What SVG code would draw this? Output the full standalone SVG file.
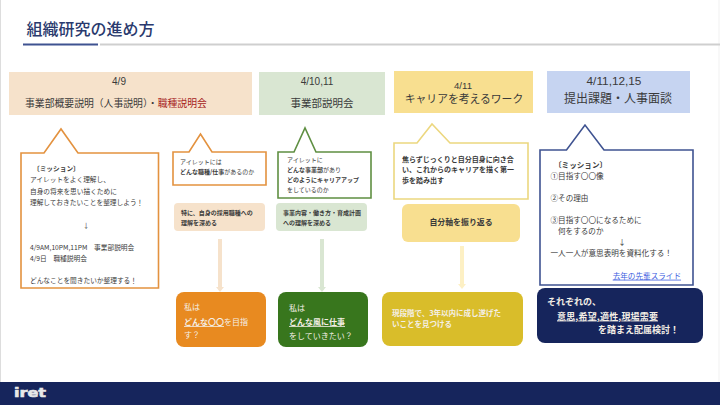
<svg xmlns="http://www.w3.org/2000/svg" width="720" height="405" viewBox="0 0 720 405">
<style>
text{font-family:"Liberation Sans","Noto Sans CJK JP",sans-serif;fill:#3a3a3a}
.j{font-family:"Noto Sans CJK JP",sans-serif}
.m{text-anchor:middle}
.b{font-weight:700}
.s{font-size:6.7px}
.t{font-size:6px}
.n{font-size:7.6px}
.w{fill:#f4efe6}
.c{fill:#fff;stroke-width:1.6;stroke-linejoin:miter}
.u{text-decoration:underline}
.a{fill:none;stroke-width:4}
</style>
<defs>
<marker id="hO" markerUnits="userSpaceOnUse" markerWidth="8" markerHeight="5" refX="4" refY="0" viewBox="0 0 8 5"><path d="M0 0H8L4 5Z" fill="#f6e2cb"/></marker>
<marker id="hG" markerUnits="userSpaceOnUse" markerWidth="8" markerHeight="5" refX="4" refY="0" viewBox="0 0 8 5"><path d="M0 0H8L4 5Z" fill="#d9e6d2"/></marker>
<marker id="hY" markerUnits="userSpaceOnUse" markerWidth="8" markerHeight="5" refX="4" refY="0" viewBox="0 0 8 5"><path d="M0 0H8L4 5Z" fill="#fdf0c4"/></marker>
</defs>
<rect width="720" height="405" fill="#fff"/>
<rect x="0" y="0" width="1" height="382" fill="#ddd"/>
<rect x="718" y="0" width="2" height="382" fill="#f8f8f8"/>

<g id="title">
<text class="j" x="26.500" y="35" font-size="16" font-weight="500" style="fill:#2a3a6e">組織研究の進め方</text>
<rect x="23" y="43.500" width="75" height="2" fill="#3f5391"/>
<rect x="100" y="43.500" width="620" height="2" fill="#cfcfcf"/>
</g>

<g id="connectors">
<line class="a" x1="220" y1="239" x2="220" y2="287" stroke="#f6e2cb" marker-end="url(#hO)"/>
<line class="a" x1="322" y1="239" x2="322" y2="287" stroke="#d9e6d2" marker-end="url(#hG)"/>
<line class="a" x1="462" y1="246" x2="462" y2="284" stroke="#fdf0c4" marker-end="url(#hY)"/>
</g>

<g id="header-1">
<rect x="9" y="72" width="243" height="43" fill="#f6e2cb"/>
<text class="m" x="119" y="85" font-size="10">4/9</text>
<text class="j" x="25" y="106.500" font-size="9.840">事業部概要説明（人事説明）・<tspan style="fill:#a61c1c">職種説明会</tspan></text>
</g>
<g id="header-2">
<rect x="259" y="72" width="126" height="43" fill="#d9e6d2"/>
<text class="m" x="317" y="85" font-size="10">4/10,11</text>
<text class="j m" x="322" y="107" font-size="10.500">事業部説明会</text>
</g>
<g id="header-3">
<rect x="394" y="71" width="139" height="42" fill="#f8df90"/>
<text class="m" x="463" y="89" font-size="9.600">4/11</text>
<text class="j m" x="464" y="102.500" font-size="10.800">キャリアを考えるワーク</text>
</g>
<g id="header-4">
<rect x="547" y="71" width="143" height="42" fill="#c6d4f1"/>
<text class="m" x="614" y="85" font-size="11.800">4/11,12,15</text>
<text class="j m" x="618" y="103" font-size="12">提出課題・人事面談</text>
</g>

<g id="callout-1">
<path class="c" stroke="#e3923f" d="M21 153H44L61 129L78 153H158.500V288H21Z"/>
<text class="j s b" x="33" y="170.500">〔ミッション〕</text>
<text class="j s" x="30" y="182">アイレットをよく理解し、</text>
<text class="j s" x="30" y="193.500">自身の将来を思い描くために</text>
<text class="j s" x="30" y="204.500">理解しておきたいことを整理しよう！</text>
<text class="j s m" x="86" y="228">↓</text>
<text class="j s" x="30" y="249.500">4/9AM,10PM,11PM　事業部説明会</text>
<text class="j s" x="30" y="260.500">4/9日　職種説明会</text>
<text class="j s" x="30" y="282.500">どんなことを聞きたいか整理する！</text>
</g>

<g id="callout-2">
<path class="c" stroke="#e3923f" d="M173 152H189L200.500 134L212 152H266V185H173Z"/>
<text class="j t" x="180" y="164.200">アイレットには</text>
<text class="j t" x="180" y="174.200"><tspan class="b">どんな職種/仕事</tspan>があるのか</text>
</g>
<g id="note-2">
<rect x="174" y="203" width="91" height="28" rx="4" fill="#f6e2cb"/>
<text class="j t b" x="181" y="215.200">特に、自身の採用職種への</text>
<text class="j t b" x="181" y="225.200">理解を深める</text>
</g>
<g id="goal-2">
<rect x="176" y="292" width="90" height="55" rx="8" fill="#e88a20"/>
<text class="j w" x="184" y="310" font-size="8">私は</text>
<text class="j w" x="184" y="325" font-size="8"><tspan class="b u">どんな〇〇</tspan>を目指</text>
<text class="j w" x="184" y="338" font-size="8">す？</text>
</g>

<g id="callout-3">
<path class="c" stroke="#5f8f42" d="M278 152H294L305 128L316 152H371V198H278Z"/>
<text class="j t" x="287" y="162.200">アイレットに</text>
<text class="j t b" x="287" y="172.200">どんな事業部<tspan font-weight="400">があり</tspan></text>
<text class="j t b" x="287" y="182.200">どのようにキャリアアップ</text>
<text class="j t" x="287" y="192.200">をしているのか</text>
</g>
<g id="note-3">
<rect x="276" y="203" width="91" height="28" rx="4" fill="#d9e6d2"/>
<text class="j t b" x="283" y="215.200">事業内容・働き方・育成計画</text>
<text class="j t b" x="283" y="225.200">への理解を深める</text>
</g>
<g id="goal-3">
<rect x="278" y="292" width="90" height="55" rx="8" fill="#38761d"/>
<text class="j w" x="289" y="311" font-size="8">私は</text>
<text class="j w" x="289" y="325" font-size="8"><tspan class="b u">どんな風に仕事</tspan></text>
<text class="j w" x="289" y="339" font-size="8">をしていきたい？</text>
</g>

<g id="callout-4">
<path class="c" stroke="#ecd77f" d="M394 143H417L432 124L450 143H528V199H394Z"/>
<text class="j b" x="402" y="161.500" font-size="7">焦らずじっくりと自分自身に向き合</text>
<text class="j b" x="402" y="171.500" font-size="7">い、これからのキャリアを描く第一</text>
<text class="j b" x="402" y="182.500" font-size="7">歩を踏み出す</text>
</g>
<g id="note-4">
<rect x="402" y="204" width="118" height="38" rx="6" fill="#f8df90"/>
<text class="j b m" x="461" y="225" font-size="7.900">自分軸を振り返る</text>
</g>
<g id="goal-4">
<rect x="382" y="292" width="141" height="54" rx="8" fill="#d9bd2a"/>
<text class="j w b" x="392" y="315.700" font-size="7.500">現段階で、3年以内に成し遂げた</text>
<text class="j w b" x="392" y="326.700" font-size="7.500">いことを見つける</text>
</g>

<g id="callout-5">
<path class="c" stroke="#3f5391" d="M540 150H566.500L585 125L604 150H693V285H540Z"/>
<text class="j n b" x="554" y="167.700">〔ミッション〕</text>
<text class="j n" x="550.500" y="178.700">①目指す〇〇像</text>
<text class="j n" x="550.500" y="200.700">②その理由</text>
<text class="j n" x="550.500" y="222.700">③目指す〇〇になるために</text>
<text class="j n" x="558" y="233.700">何をするのか</text>
<text class="j n m" x="622" y="245">↓</text>
<text class="j n" x="550.500" y="255.700">一人一人が意思表明を資料化する！</text>
<text class="j n u" x="612.700" y="278.700" style="fill:#3c5ce0">去年の先輩スライド</text>
</g>
<g id="goal-5">
<rect x="537" y="288" width="166" height="55" rx="8" fill="#16255c"/>
<text class="j w b" x="547" y="305" font-size="9">それぞれの、</text>
<text class="j w b u" x="557" y="319.500" font-size="9" textLength="101" lengthAdjust="spacing">意思,希望,適性,現場需要</text>
<text class="j w b" x="598" y="332.500" font-size="9">を踏まえ配属検討！</text>
</g>

<g id="footer">
<rect x="0" y="382" width="720" height="23" fill="#16255c"/>
<text x="14" y="397" font-size="12" font-weight="700" textLength="32" lengthAdjust="spacingAndGlyphs" style="font-family:'DejaVu Sans',sans-serif;fill:#e8e8e8;stroke:#e8e8e8;stroke-width:.6">iret</text>
</g>
</svg>
